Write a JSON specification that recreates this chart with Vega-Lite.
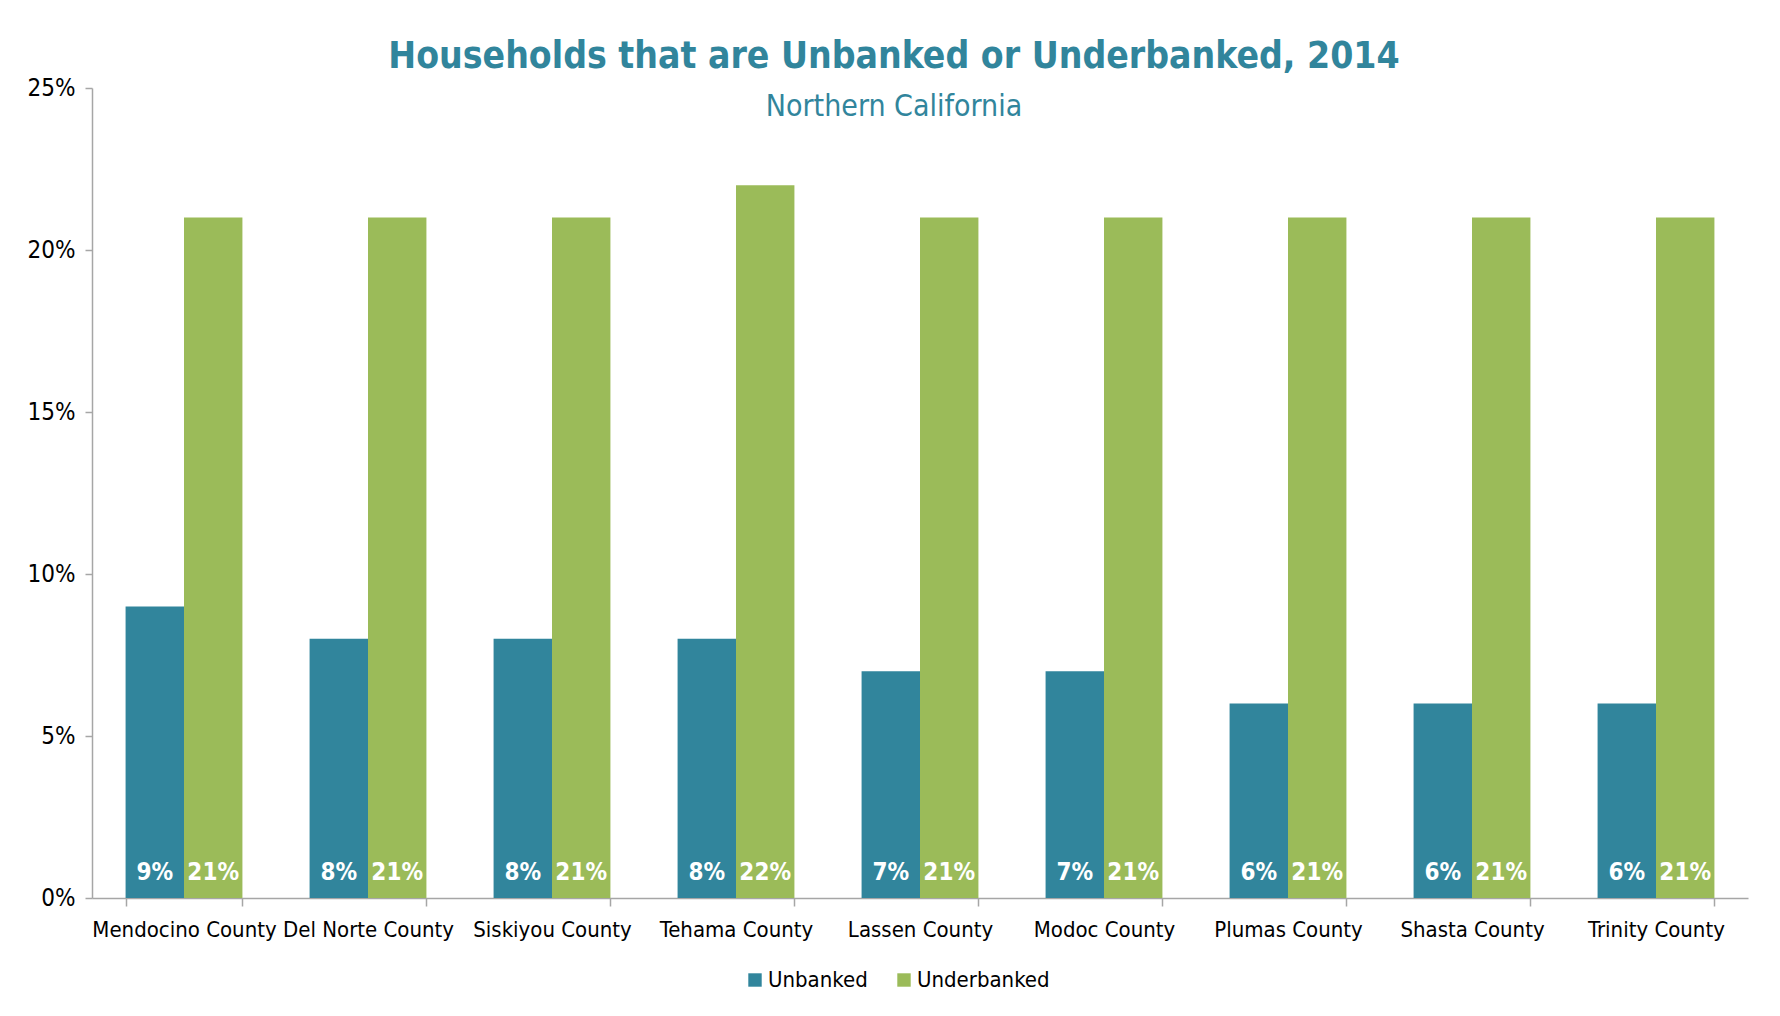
{
  "$schema": "https://vega.github.io/schema/vega-lite/v6.json",
  "autosize": {"type": "none"},
  "width": 1656,
  "height": 810,
  "padding": {"left": 92, "top": 88, "right": 32, "bottom": 118},
  "background": "white",
  "title": {
    "text": "Households that are Unbanked or Underbanked, 2014",
    "subtitle": "Northern California",
    "anchor": "middle",
    "frame": "group",
    "dx": -26,
    "offset": -47,
    "font": "DejaVu Sans Condensed, sans-serif",
    "fontSize": 37,
    "fontWeight": "bold",
    "color": "#31859C",
    "subtitleFont": "DejaVu Sans Condensed, sans-serif",
    "subtitleFontSize": 30,
    "subtitleColor": "#31859C",
    "subtitlePadding": 16
  },
  "config": {
    "view": {"stroke": null},
    "font": "DejaVu Sans Condensed, sans-serif",
    "axis": {
      "labelFont": "DejaVu Sans Condensed, sans-serif",
      "labelFontSize": 22,
      "labelColor": "#000000",
      "labelLimit": 0,
      "domainColor": "#A6A6A6",
      "tickColor": "#A6A6A6",
      "domainWidth": 1.5,
      "tickWidth": 1.5,
      "grid": false,
      "title": null
    },
    "legend": {
      "labelFont": "DejaVu Sans Condensed, sans-serif",
      "labelFontSize": 22,
      "labelColor": "#000000"
    }
  },
  "data": {
    "values": [
      {"county": "Mendocino County", "series": "Unbanked", "value": 0.09},
      {"county": "Mendocino County", "series": "Underbanked", "value": 0.21},
      {"county": "Del Norte County", "series": "Unbanked", "value": 0.08},
      {"county": "Del Norte County", "series": "Underbanked", "value": 0.21},
      {"county": "Siskiyou County", "series": "Unbanked", "value": 0.08},
      {"county": "Siskiyou County", "series": "Underbanked", "value": 0.21},
      {"county": "Tehama County", "series": "Unbanked", "value": 0.08},
      {"county": "Tehama County", "series": "Underbanked", "value": 0.22},
      {"county": "Lassen County", "series": "Unbanked", "value": 0.07},
      {"county": "Lassen County", "series": "Underbanked", "value": 0.21},
      {"county": "Modoc County", "series": "Unbanked", "value": 0.07},
      {"county": "Modoc County", "series": "Underbanked", "value": 0.21},
      {"county": "Plumas County", "series": "Unbanked", "value": 0.06},
      {"county": "Plumas County", "series": "Underbanked", "value": 0.21},
      {"county": "Shasta County", "series": "Unbanked", "value": 0.06},
      {"county": "Shasta County", "series": "Underbanked", "value": 0.21},
      {"county": "Trinity County", "series": "Unbanked", "value": 0.06},
      {"county": "Trinity County", "series": "Underbanked", "value": 0.21}
    ]
  },
  "encoding": {
    "x": {
      "field": "county",
      "type": "nominal",
      "sort": null,
      "scale": {"paddingInner": 0.365, "paddingOuter": 0.1825},
      "axis": {
        "labelAngle": 0,
        "tickBand": "extent",
        "tickSize": 8,
        "labelPadding": 13,
        "labelBaseline": "top"
      }
    },
    "xOffset": {
      "field": "series",
      "type": "nominal",
      "sort": ["Unbanked", "Underbanked"]
    }
  },
  "layer": [
    {
      "mark": {"type": "bar"},
      "encoding": {
        "y": {
          "field": "value",
          "type": "quantitative",
          "scale": {"domain": [0, 0.25], "nice": false},
          "axis": {
            "format": ".0%",
            "values": [0, 0.05, 0.1, 0.15, 0.2, 0.25],
            "tickSize": 7,
            "labelPadding": 10,
            "labelFontSize": 24
          }
        },
        "color": {
          "field": "series",
          "type": "nominal",
          "sort": ["Unbanked", "Underbanked"],
          "scale": {"domain": ["Unbanked", "Underbanked"], "range": ["#31859C", "#9BBB59"]},
          "legend": {
            "title": null,
            "orient": "none",
            "direction": "horizontal",
            "legendX": 652,
            "legendY": 881,
            "symbolType": "square",
            "symbolSize": 180,
            "symbolStrokeWidth": 0,
            "labelOffset": 2,
            "columnPadding": 25
          }
        }
      }
    },
    {
      "mark": {
        "type": "text",
        "color": "white",
        "fontWeight": "bold",
        "fontSize": 24,
        "baseline": "alphabetic",
        "dy": -18
      },
      "encoding": {
        "y": {"datum": 0, "type": "quantitative"},
        "text": {"field": "value", "type": "quantitative", "format": ".0%"}
      }
    }
  ]
}
